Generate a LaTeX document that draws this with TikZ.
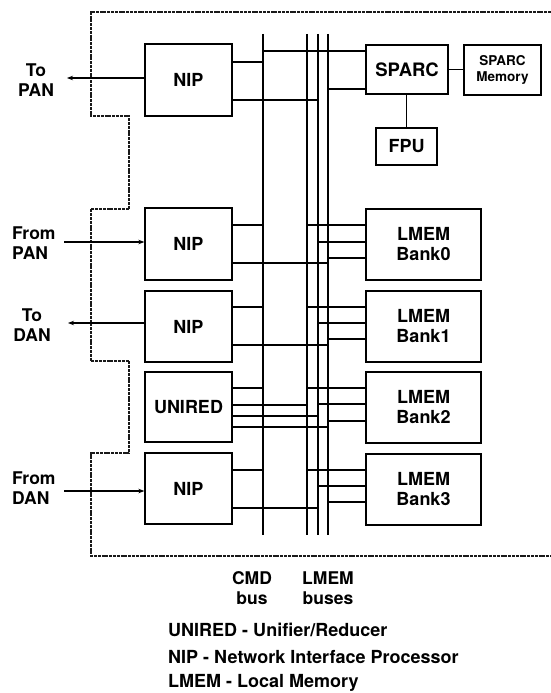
\documentclass[tikz,border=0pt]{standalone}
\usepackage{fontspec}
\setmainfont{TeX Gyre Heros}
\usetikzlibrary{arrows.meta}
\begin{document}
\begin{tikzpicture}[x=1pt,y=-1pt,
  unit/.style={draw,line width=1.3pt,inner sep=0pt,font=\fontsize{18}{20}\selectfont\bfseries,align=center},
  lbl/.style={inner sep=0pt,font=\fontsize{17.5}{20}\selectfont\bfseries},
  legend/.style={inner sep=0pt,anchor=west,font=\fontsize{18}{20}\selectfont\bfseries},
  bus/.style={line width=1.8pt},
  conn/.style={line width=1.3pt},
  outline/.style={line width=1.1pt,dash pattern=on 3pt off 0.8pt,black!90},
  arr/.style={line width=1.1pt,-{Stealth[length=6pt,width=4.5pt]}}
]
\useasboundingbox (0,0) rectangle (550,693);
% dashed board outline
\draw[outline] (551,12) -- (91,12) -- (91,116) -- (129,116) -- (129,209) -- (91,209)
  -- (91,361) -- (129,361) -- (129,453) -- (91,453) -- (91,556) -- (551,556);
% units
\node[unit,minimum width=87pt,minimum height=72pt] (nip1) at (188.5,80) {NIP};
\node[unit,minimum width=87pt,minimum height=72pt] (nip2) at (188.5,244) {NIP};
\node[unit,minimum width=87pt,minimum height=71pt] (nip3) at (188.5,326.5) {NIP};
\node[unit,minimum width=87pt,minimum height=70pt] (unired) at (188.5,407) {UNIRED};
\node[unit,minimum width=87pt,minimum height=71pt] (nip4) at (188.5,488.5) {NIP};
\node[unit,minimum width=82pt,minimum height=49pt,font=\fontsize{18.5}{20}\selectfont\bfseries] (sparc) at (407,69.5) {SPARC};
\node[unit,minimum width=77pt,minimum height=50pt,font=\fontsize{13.5}{16}\selectfont\bfseries] (mem) at (502.5,70) {SPARC\\Memory};
\node[unit,minimum width=61pt,minimum height=37pt] (fpu) at (406.5,146.5) {FPU};
\node[unit,minimum width=115pt,minimum height=71pt] (bank0) at (423.5,244.5) {LMEM\\Bank0};
\node[unit,minimum width=115pt,minimum height=71pt] (bank1) at (423.5,326.5) {LMEM\\Bank1};
\node[unit,minimum width=115pt,minimum height=71pt] (bank2) at (423.5,407.5) {LMEM\\Bank2};
\node[unit,minimum width=115pt,minimum height=71pt] (bank3) at (423.5,489.5) {LMEM\\Bank3};
% buses
\coordinate (cmdT) at (263,34); \coordinate (cmdB) at (263,535);
\coordinate (b1T) at (307,34); \coordinate (b1B) at (307,535);
\coordinate (b2T) at (318,34); \coordinate (b2B) at (318,535);
\coordinate (b3T) at (328,34); \coordinate (b3B) at (328,535);
\draw[bus] (cmdT) -- (cmdB);
\draw[bus] (b1T) -- (b1B);
\draw[bus] (b2T) -- (b2B);
\draw[bus] (b3T) -- (b3B);
% connectors: unit side to bus
\newcommand\hconn[3]{\draw[conn] (#1) ++(0,#2) coordinate (tmp) -- (tmp -| #3);}
\hconn{nip1.east}{-18}{cmdT}
\hconn{nip1.east}{20}{b2T}
\hconn{sparc.west}{-18.5}{cmdT}
\hconn{sparc.west}{19.5}{b3T}
\hconn{nip2.east}{-19}{cmdT}
\hconn{nip2.east}{19}{b3T}
\hconn{bank0.west}{-19.5}{b1T}
\hconn{bank0.west}{-2.5}{b2T}
\hconn{bank0.west}{13.5}{b3T}
\hconn{nip3.east}{-19.5}{cmdT}
\hconn{nip3.east}{18.5}{b3T}
\hconn{bank1.west}{-19.5}{b1T}
\hconn{bank1.west}{-3.5}{b2T}
\hconn{bank1.west}{12.5}{b3T}
\hconn{unired.east}{-19}{cmdT}
\hconn{unired.east}{-2}{b1T}
\hconn{unired.east}{9}{b2T}
\hconn{unired.east}{20}{b3T}
\hconn{bank2.west}{-19.5}{b1T}
\hconn{bank2.west}{-3.5}{b2T}
\hconn{bank2.west}{13.5}{b3T}
\hconn{nip4.east}{-18.5}{cmdT}
\hconn{nip4.east}{19.5}{b2T}
\hconn{bank3.west}{-19.5}{b1T}
\hconn{bank3.west}{-3.5}{b2T}
\hconn{bank3.west}{12.5}{b3T}
\draw[conn] (sparc.east) -- (sparc.east -| mem.west);
\draw[conn] (fpu.north) -- (fpu.north |- sparc.south);
% external links
\coordinate (toPAN) at (67,78);
\coordinate (fromPAN) at (64,242);
\coordinate (toDAN) at (68,323);
\coordinate (fromDAN) at (64,491);
\draw[arr] (nip1.west |- toPAN) -- (toPAN);
\draw[arr] (fromPAN) -- (nip2.west |- fromPAN);
\draw[arr] (nip3.west |- toDAN) -- (toDAN);
\draw[arr] (fromDAN) -- (nip4.west |- fromDAN);
\node[lbl,align=center] (lToPAN) at (36,80) {To\\PAN};
\node[lbl,align=left,anchor=west] (lFromPAN) at (12,243) {From\\PAN};
\node[lbl,align=center] (lToDAN) at (32,325) {To\\DAN};
\node[lbl,align=left,anchor=west] (lFromDAN) at (12,488) {From\\DAN};
% bus labels
\node[lbl,align=center] (lcmd) at (252,588) {CMD\\bus};
\node[lbl,align=center] (llmem) at (328,588) {LMEM\\buses};
% legend
\node[legend] (leg1) at (168,630) {UNIRED - Unifier/Reducer};
\node[legend] (leg2) at (168,657) {NIP - Network Interface Processor};
\node[legend] (leg3) at (168,683) {LMEM - Local Memory};
\end{tikzpicture}
\end{document}
